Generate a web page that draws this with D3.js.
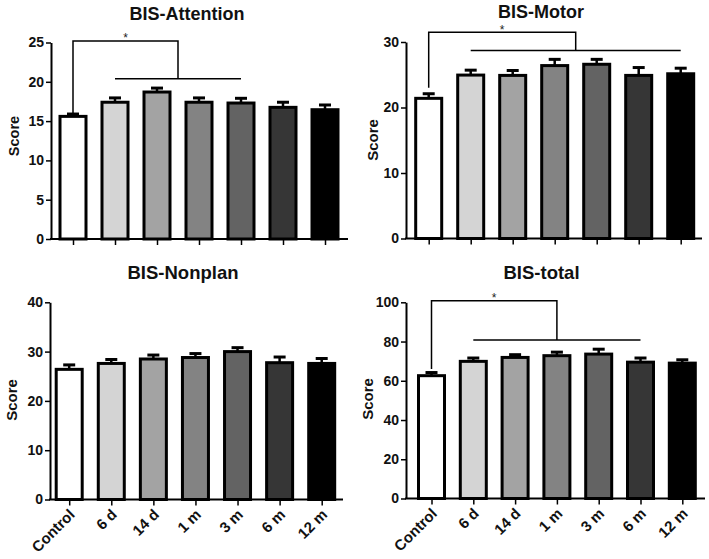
<!DOCTYPE html>
<html>
<head>
<meta charset="utf-8">
<script src="https://cdn.jsdelivr.net/npm/d3@7"></script>
<style>
  html, body { margin: 0; padding: 0; background: #fff; }
  svg { display: block; font-family: Arial, "Liberation Sans", sans-serif; }
</style>
</head>
<body>
<svg id="chart" width="709" height="559"></svg>
<script>
// ---------- data ----------
const categories = ["Control", "6 d", "14 d", "1 m", "3 m", "6 m", "12 m"];
const barColors = ["#ffffff", "#d4d4d4", "#a3a3a3", "#838383", "#636363", "#363636", "#000000"];

const titles = ["BIS-Attention", "BIS-Motor", "BIS-Nonplan", "BIS-total"];
const yLabel = "Score";

const attentionMean = [15.6, 17.4, 18.7, 17.4, 17.3, 16.75, 16.45];
const attentionErr  = [0.3, 0.55, 0.5, 0.55, 0.6, 0.65, 0.6];
const attentionTicks = [0, 5, 10, 15, 20, 25];

const motorMean = [21.4, 24.95, 24.9, 26.4, 26.6, 24.9, 25.15];
const motorErr  = [0.7, 0.75, 0.75, 0.95, 0.75, 1.2, 0.85];
const motorTicks = [0, 10, 20, 30];

const nonplanMean = [26.4, 27.6, 28.5, 28.8, 30.0, 27.75, 27.6];
const nonplanErr  = [0.9, 0.8, 0.8, 0.8, 0.8, 1.15, 1.0];
const nonplanTicks = [0, 10, 20, 30, 40];

const totalMean = [62.6, 69.9, 71.9, 72.8, 73.6, 69.5, 69.0];
const totalErr  = [1.6, 1.7, 1.4, 1.8, 2.5, 2.1, 1.7];
const totalTicks = [0, 20, 40, 60, 80, 100];

// significance brackets: control vs group (values in data units)
const attentionSig = { from: "Control", groupStart: "6 d", groupEnd: "3 m", top: 25.2, drop: 15.9, line: 20.4, label: "*" };
const motorSig     = { from: "Control", groupStart: "6 d", groupEnd: "12 m", top: 31.5, drop: 23.0, line: 28.7, label: "*" };
const totalSig     = { from: "Control", groupStart: "6 d", groupEnd: "6 m", top: 100.8, drop: 66.0, line: 80.8, label: "*" };

// ---------- layout ----------
const panels = [
  { title: titles[0], mean: attentionMean, err: attentionErr, ticks: attentionTicks, sig: attentionSig,
    x0: 51, x1: 348, y0: 239, yTop: 42.5, c0: 73, c1: 325, showLabels: false,
    titleX: 187, titleY: 20, titleSize: 18, ylX: 14, ylY: 136, ylSize: 14.5 },
  { title: titles[1], mean: motorMean, err: motorErr, ticks: motorTicks, sig: motorSig,
    x0: 406, x1: 702, y0: 238.5, yTop: 42, c0: 428.7, c1: 680.7, showLabels: false,
    titleX: 541, titleY: 17.5, titleSize: 18, ylX: 372, ylY: 140, ylSize: 15 },
  { title: titles[2], mean: nonplanMean, err: nonplanErr, ticks: nonplanTicks, sig: null,
    x0: 50, x1: 343, y0: 499.5, yTop: 302.3, c0: 69.2, c1: 321.7, showLabels: true,
    titleX: 183, titleY: 279, titleSize: 18.5, ylX: 11, ylY: 400, ylSize: 15 },
  { title: titles[3], mean: totalMean, err: totalErr, ticks: totalTicks, sig: totalSig,
    x0: 406, x1: 705, y0: 498.5, yTop: 302.3, c0: 431.5, c1: 682.3, showLabels: true,
    titleX: 541.5, titleY: 279, titleSize: 18.5, ylX: 367, ylY: 399, ylSize: 15 }
];

const svg = d3.select("#chart");

panels.forEach(p => {
  const g = svg.append("g");
  const yMax = p.ticks[p.ticks.length - 1];
  const y = d3.scaleLinear().domain([0, yMax]).range([p.y0, p.yTop]);
  const x = d3.scalePoint().domain(categories).range([p.c0, p.c1]);
  const barW = 26;
  const capW = 12;

  // title
  g.append("text")
    .attr("x", p.titleX).attr("y", p.titleY)
    .attr("text-anchor", "middle")
    .attr("font-size", p.titleSize).attr("font-weight", "bold")
    .attr("fill", "#111")
    .text(p.title);

  // y label
  g.append("text")
    .attr("transform", `translate(${p.ylX},${p.ylY}) rotate(-90)`)
    .attr("text-anchor", "middle").attr("dominant-baseline", "central")
    .attr("font-size", p.ylSize).attr("font-weight", "bold")
    .attr("fill", "#111")
    .text(yLabel);

  // error bars (upper only)
  const eb = g.append("g");
  categories.forEach((c, i) => {
    const cx = x(c);
    const top = y(p.mean[i] + p.err[i]);
    eb.append("line")
      .attr("x1", cx).attr("x2", cx)
      .attr("y1", y(p.mean[i])).attr("y2", top)
      .attr("stroke", "#000").attr("stroke-width", 2.5);
    eb.append("line")
      .attr("x1", cx - capW / 2).attr("x2", cx + capW / 2)
      .attr("y1", top).attr("y2", top)
      .attr("stroke", "#000").attr("stroke-width", 3);
  });

  // bars
  g.append("g").selectAll("rect")
    .data(categories)
    .join("rect")
    .attr("x", d => x(d) - barW / 2)
    .attr("width", barW)
    .attr("y", (d, i) => y(p.mean[i]))
    .attr("height", (d, i) => p.y0 - y(p.mean[i]))
    .attr("fill", (d, i) => barColors[i])
    .attr("stroke", "#000")
    .attr("stroke-width", 3);

  // y axis
  const ya = g.append("g")
    .attr("transform", `translate(${p.x0},0)`)
    .call(d3.axisLeft(y).tickValues(p.ticks).tickSize(5).tickSizeOuter(0).tickPadding(2));
  ya.select(".domain").attr("stroke", "#000").attr("stroke-width", 2);
  ya.selectAll(".tick line").attr("stroke", "#000").attr("stroke-width", 1.5);
  ya.selectAll(".tick text")
    .attr("font-size", 14).attr("font-weight", "bold").attr("fill", "#111")
    .attr("font-family", "Arial, 'Liberation Sans', sans-serif");

  // x axis
  const xa = g.append("g")
    .attr("transform", `translate(0,${p.y0})`)
    .call(d3.axisBottom(x).tickSize(6).tickSizeOuter(0).tickPadding(3));
  xa.select(".domain").remove();
  xa.selectAll(".tick line").attr("stroke", "#000").attr("stroke-width", 1.5);
  if (p.showLabels) {
    xa.selectAll(".tick text")
      .attr("font-size", 15).attr("font-weight", "bold").attr("fill", "#111")
      .attr("font-family", "Arial, 'Liberation Sans', sans-serif")
      .attr("text-anchor", "end")
      .attr("dy", null)
      .attr("y", 0)
      .attr("transform", "translate(6,16) rotate(-45)");
  } else {
    xa.selectAll(".tick text").remove();
  }
  g.append("line")
    .attr("x1", p.x0 - 1).attr("x2", p.x1)
    .attr("y1", p.y0).attr("y2", p.y0)
    .attr("stroke", "#000").attr("stroke-width", 2);

  // significance bracket
  if (p.sig) {
    const s = p.sig;
    const xl = x(s.from);
    const xs = x(s.groupStart), xe = x(s.groupEnd);
    const xm = (xs + xe) / 2;
    const sg = g.append("g").attr("stroke", "#000").attr("stroke-width", 1.5).attr("fill", "none");
    sg.append("path")
      .attr("d", `M${xl},${y(s.drop)}V${y(s.top)}H${xm}V${y(s.line)}`);
    sg.append("line")
      .attr("x1", xs).attr("x2", xe)
      .attr("y1", y(s.line)).attr("y2", y(s.line));
    g.append("text")
      .attr("x", (xl + xm) / 2).attr("y", y(s.top) + 1.5)
      .attr("text-anchor", "middle")
      .attr("font-size", 12).attr("fill", "#222")
      .text(s.label);
  }
});
</script>
</body>
</html>
